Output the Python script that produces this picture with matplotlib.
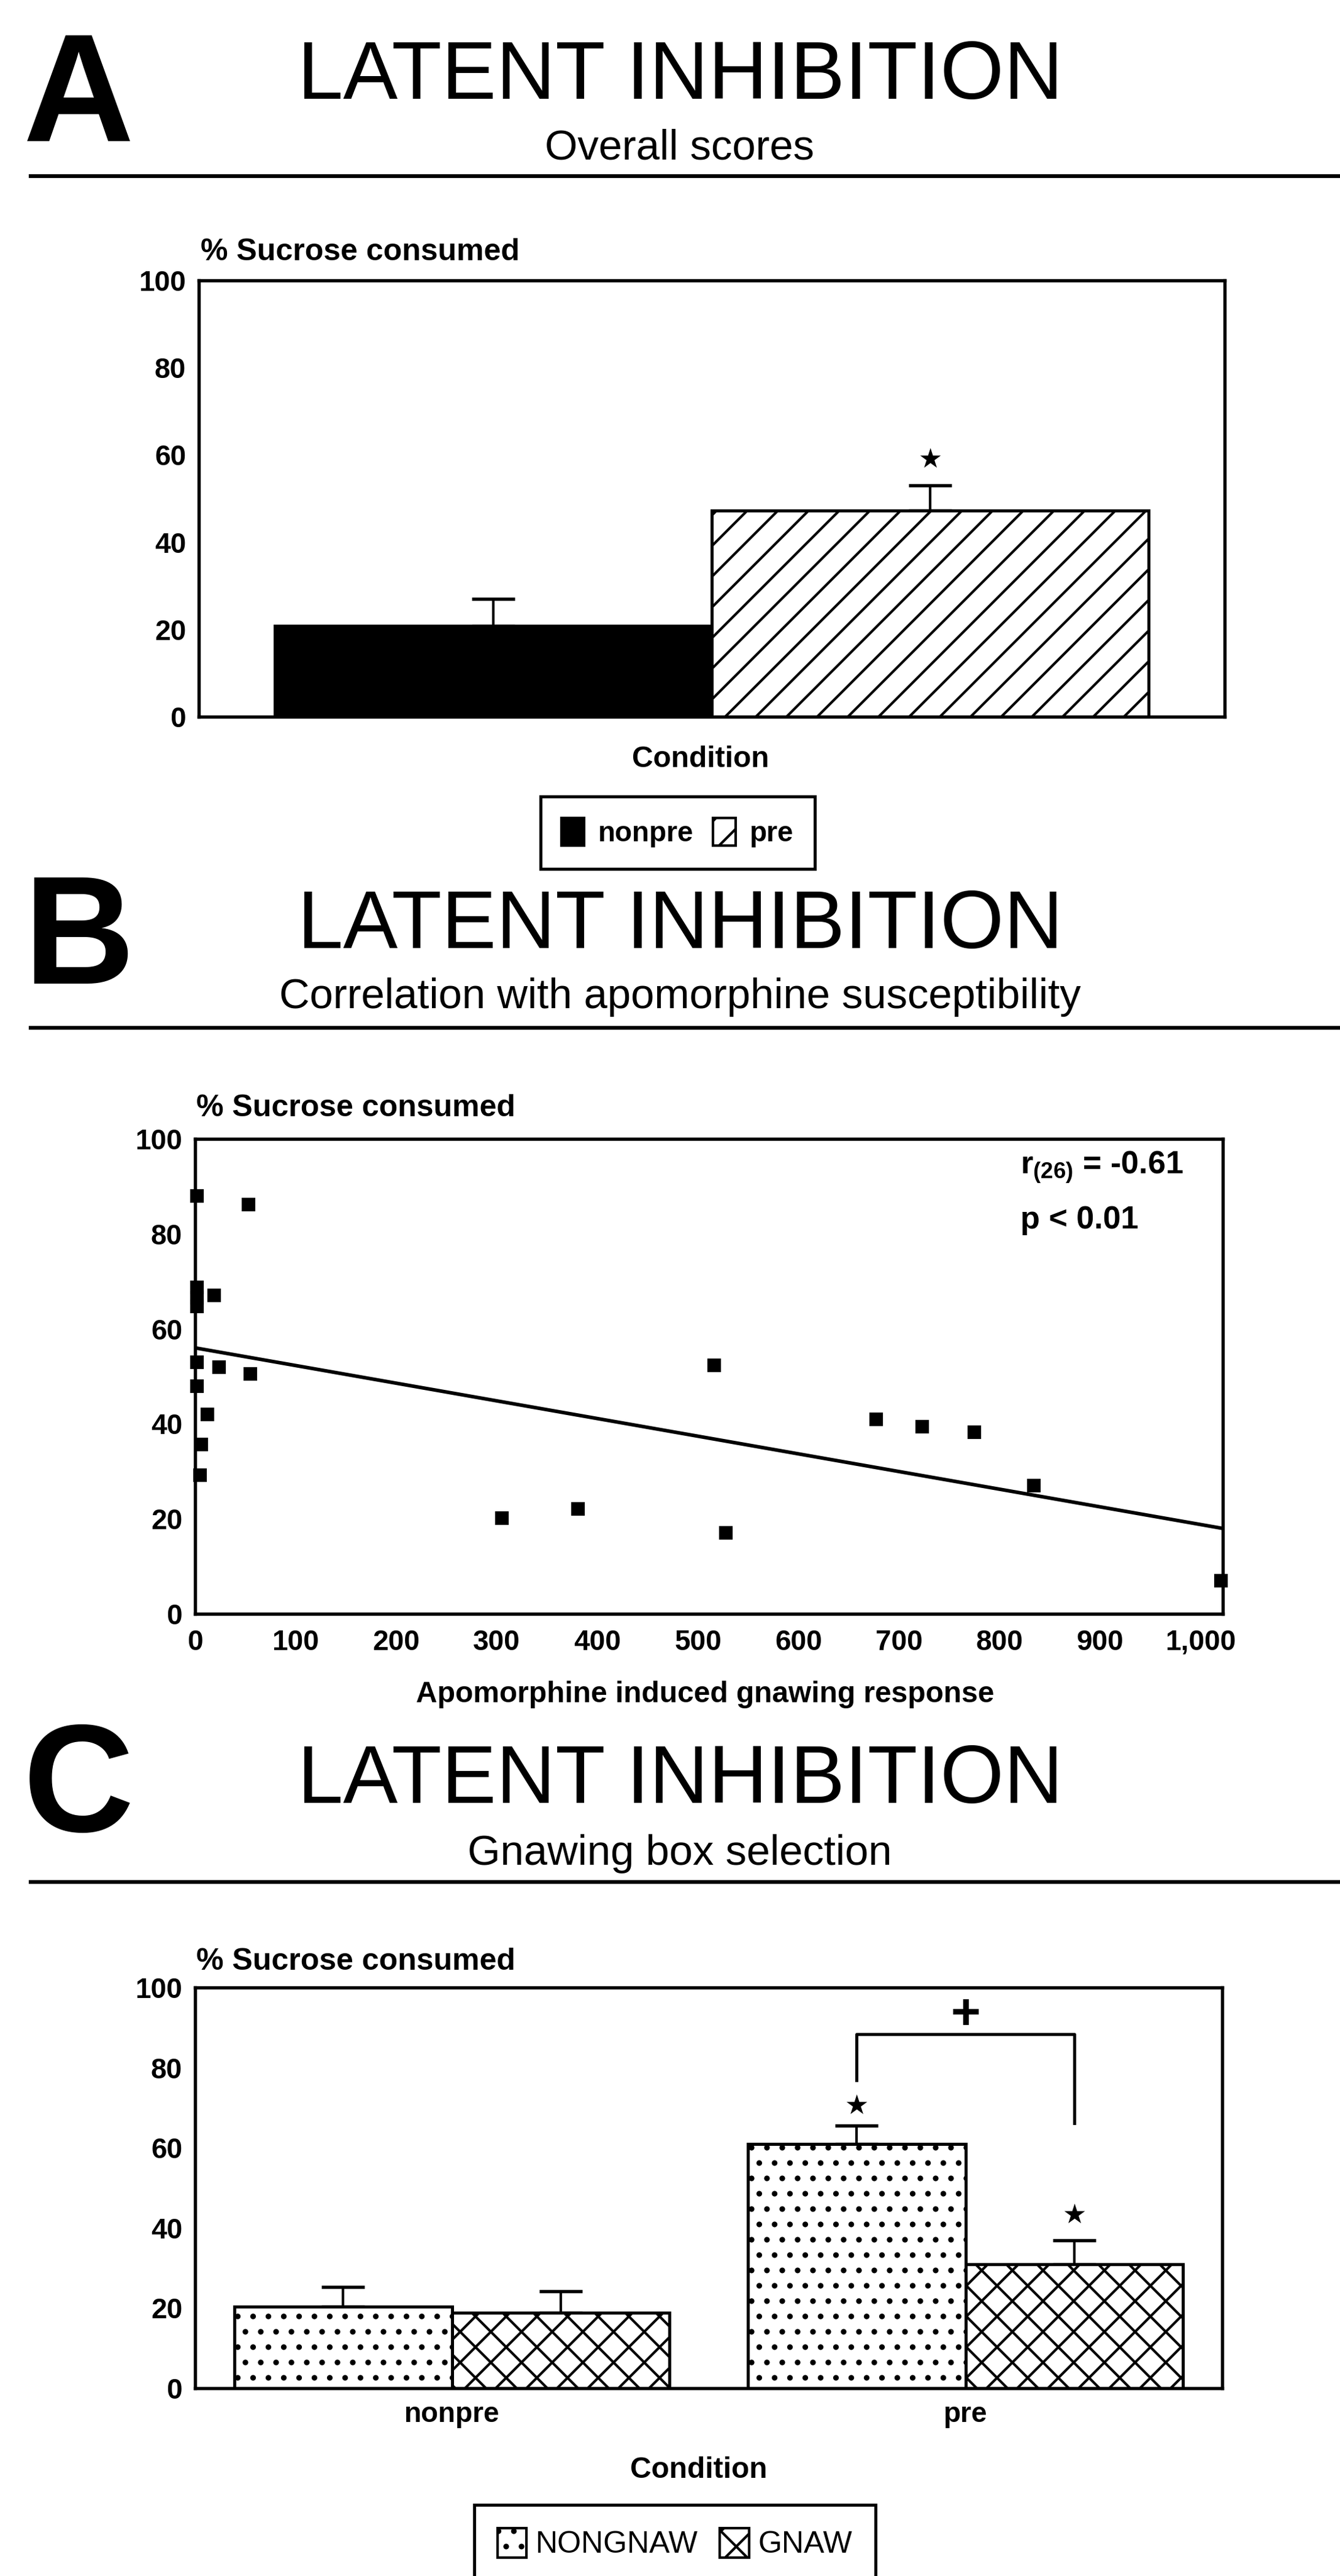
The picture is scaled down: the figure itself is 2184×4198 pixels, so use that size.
import numpy as np
import matplotlib
matplotlib.use("Agg")
import matplotlib.pyplot as plt
from matplotlib.lines import Line2D
from matplotlib.patches import Patch
from matplotlib.ticker import FuncFormatter

# ---------------- data ----------------
# Panel A: overall scores
a_conditions = ["nonpre", "pre"]
a_means = [20.8, 47.3]
a_sem = [6.2, 5.7]
a_star_y = 58.8                 # star above "pre"

# Panel B: correlation with apomorphine susceptibility
b_apomorphine = [2, 53, 2, 2, 2, 19, 2, 24, 55, 2, 12, 6, 5,
                 305, 381, 516, 528, 677, 723, 775, 834, 1020]
b_sucrose = [88.0, 86.2, 68.7, 66.5, 64.7, 67.0, 53.0, 52.0, 50.5, 47.9, 42.0, 35.7, 29.2,
             20.2, 22.1, 52.3, 17.0, 41.0, 39.4, 38.3, 27.0, 7.0]
b_fit_intercept = 56.0
b_fit_slope = -0.0372
b_xticks = [0, 100, 200, 300, 400, 500, 600, 700, 800, 900, 1000]
b_stat_r = r"$\mathbf{r_{(26)}}$ = -0.61"
b_stat_p = "p < 0.01"

# Panel C: gnawing box selection
c_conditions = ["nonpre", "pre"]
c_series = ["NONGNAW", "GNAW"]
c_nongnaw = [20.4, 61.0]
c_gnaw = [18.8, 30.9]
c_nongnaw_sem = [4.9, 4.5]
c_gnaw_sem = [5.4, 6.0]
c_star_nongnaw_y = 70.3
c_star_gnaw_y = 43.0
c_bracket_top = 88.4
c_bracket_left_bottom = 76.9
c_bracket_right_bottom = 66.2
c_plus_y = 93.0

yticks = [0, 20, 40, 60, 80, 100]

# ---------------- style ----------------
plt.rcParams["font.family"] = ["Liberation Sans", "DejaVu Sans"]
plt.rcParams["mathtext.fontset"] = "custom"
plt.rcParams["mathtext.bf"] = "Liberation Sans:bold"
plt.rcParams["mathtext.rm"] = "Liberation Sans:bold"
plt.rcParams["mathtext.it"] = "Liberation Sans:bold"
plt.rcParams["hatch.linewidth"] = 1.0
plt.rcParams["hatch.color"] = "black"

W, H = 2184, 4198
DPI = 300
fig = plt.figure(figsize=(W / DPI, H / DPI), dpi=DPI)
fig.patch.set_facecolor("white")


def fx(x):
    return x / W


def fy(y):
    return 1 - y / H


def axes_px(l, t, r, b):
    return fig.add_axes([l / W, 1 - b / H, (r - l) / W, (b - t) / H])


def style_axes(ax):
    for s in ax.spines.values():
        s.set_linewidth(1.3)
        s.set_color("black")
    ax.tick_params(length=0, labelsize=11, pad=5)
    ax.set_facecolor("white")


def header(letter, letter_base, title_base, sub, sub_base, rule_y):
    fig.text(fx(38), fy(letter_base), letter, fontsize=60, fontweight="bold",
             ha="left", va="baseline")
    fig.text(fx(1109), fy(title_base), "LATENT INHIBITION", fontsize=32,
             ha="center", va="baseline")
    fig.text(fx(1108), fy(sub_base), sub, fontsize=16.5, ha="center", va="baseline")
    fig.add_artist(Line2D([fx(50), 1.0], [fy(rule_y), fy(rule_y)], lw=1.5,
                          color="black", transform=fig.transFigure))


def bold_ticklabels(ax):
    for lbl in ax.get_xticklabels() + ax.get_yticklabels():
        lbl.set_fontweight("bold")


err_kw = dict(fmt="none", ecolor="black", elinewidth=1.0, capsize=8.5, capthick=1.3)
STAR = "\u2605"

# ---------------- Panel A ----------------
header("A", 230, 161, "Overall scores", 259, 287)
fig.text(fx(327), fy(424), "% Sucrose consumed", fontsize=12, fontweight="bold",
         va="baseline", ha="left")
axA = axes_px(324, 457, 1996, 1168)
style_axes(axA)
wA = 0.426
xA = (np.arange(len(a_conditions)) - (len(a_conditions) - 1) / 2) * wA
barsA = axA.bar(xA, a_means, width=wA, edgecolor="black", linewidth=1.2,
                color=["black", "white"], zorder=2)
barsA[1].set_hatch("//")
axA.errorbar(xA, a_means, yerr=[np.zeros(len(a_sem)), a_sem], zorder=1, **err_kw)
axA.text(xA[1], a_star_y, STAR, fontsize=10.5, ha="center", va="center",
         family=["DejaVu Sans"])
axA.set_xlim(-0.5, 0.5)
axA.set_ylim(0, 100)
axA.set_yticks(yticks)
axA.set_xticks([])
bold_ticklabels(axA)
fig.text(fx(1142), fy(1250), "Condition", fontsize=11.5, fontweight="bold",
         ha="center", va="baseline")
legA = fig.legend([Patch(facecolor="black", edgecolor="black"),
                   Patch(facecolor="white", edgecolor="black", hatch="//")],
                  a_conditions, loc="center", bbox_to_anchor=(fx(1104), fy(1357)),
                  ncol=2, frameon=True, fancybox=False, edgecolor="black", framealpha=1,
                  handlelength=0.8, handleheight=1.15, handletextpad=0.5,
                  columnspacing=0.7, borderpad=0.75, borderaxespad=0,
                  prop={"weight": "bold", "size": 11})
legA.get_frame().set_linewidth(1.2)

# ---------------- Panel B ----------------
header("B", 1603, 1545, "Correlation with apomorphine susceptibility", 1643, 1675)
fig.text(fx(320), fy(1819), "% Sucrose consumed", fontsize=12, fontweight="bold",
         va="baseline", ha="left")
axB = axes_px(318, 1856, 1993, 2630)
style_axes(axB)
axB.set_xlim(0, 1022)
axB.set_ylim(0, 100)
axB.plot(b_apomorphine, b_sucrose, "s", ms=4.3, color="black", clip_on=False, zorder=3)
xs = np.array(axB.get_xlim())
axB.plot(xs, b_fit_intercept + b_fit_slope * xs, color="black", lw=1.4, zorder=2)
axB.set_xticks(b_xticks)
axB.xaxis.set_major_formatter(FuncFormatter(lambda v, p: f"{int(v):,}"))
axB.set_yticks(yticks)
axB.tick_params(axis="x", pad=6)
bold_ticklabels(axB)
fig.text(fx(1663), fy(1913), b_stat_r, fontsize=12.5, fontweight="bold",
         ha="left", va="baseline")
fig.text(fx(1663), fy(2002), b_stat_p, fontsize=12.5, fontweight="bold",
         ha="left", va="baseline")
fig.text(fx(1149), fy(2774), "Apomorphine induced gnawing response", fontsize=11.5,
         fontweight="bold", ha="center", va="baseline")

# ---------------- Panel C ----------------
header("C", 2985, 2938, "Gnawing box selection", 3039, 3067)
fig.text(fx(320), fy(3210), "% Sucrose consumed", fontsize=12, fontweight="bold",
         va="baseline", ha="left")
axC = axes_px(318, 3239, 1992, 3892)
style_axes(axC)
wC = 0.424
xC = np.arange(len(c_conditions))
x_ng = xC - wC / 2
x_g = xC + wC / 2
axC.bar(x_ng, c_nongnaw, width=wC, color="white", edgecolor="black", linewidth=1.2,
        hatch="..", zorder=2)
axC.bar(x_g, c_gnaw, width=wC, color="white", edgecolor="black", linewidth=1.2,
        hatch="xx", zorder=2)
axC.errorbar(x_ng, c_nongnaw, yerr=[np.zeros(len(c_nongnaw_sem)), c_nongnaw_sem],
             zorder=1, **err_kw)
axC.errorbar(x_g, c_gnaw, yerr=[np.zeros(len(c_gnaw_sem)), c_gnaw_sem],
             zorder=1, **err_kw)
axC.text(x_ng[1], c_star_nongnaw_y, STAR, fontsize=10.5, ha="center", va="center",
         family=["DejaVu Sans"])
axC.text(x_g[1], c_star_gnaw_y, STAR, fontsize=10.5, ha="center", va="center",
         family=["DejaVu Sans"])
axC.plot([x_ng[1], x_ng[1], x_g[1], x_g[1]],
         [c_bracket_left_bottom, c_bracket_top, c_bracket_top, c_bracket_right_bottom],
         color="black", lw=1.2)
axC.text((x_ng[1] + x_g[1]) / 2, c_plus_y, "+", fontsize=20, fontweight="bold",
         ha="center", va="center")
axC.set_xlim(-0.5, 1.5)
axC.set_ylim(0, 100)
axC.set_xticks(xC)
axC.set_xticklabels(c_conditions)
axC.set_yticks(yticks)
bold_ticklabels(axC)
fig.text(fx(1139), fy(4038), "Condition", fontsize=11.5, fontweight="bold",
         ha="center", va="baseline")
legC = fig.legend([Patch(facecolor="white", edgecolor="black", hatch=".."),
                   Patch(facecolor="white", edgecolor="black", hatch="xx")],
                  c_series, loc="upper center", bbox_to_anchor=(fx(1100), fy(4082)),
                  ncol=2, frameon=True, fancybox=False, edgecolor="black", framealpha=1,
                  handlelength=0.95, handleheight=1.1, handletextpad=0.3,
                  columnspacing=0.7, borderpad=0.75, borderaxespad=0,
                  prop={"size": 12})
legC.get_frame().set_linewidth(1.2)

fig.savefig("out.png", dpi=DPI, facecolor="white")
